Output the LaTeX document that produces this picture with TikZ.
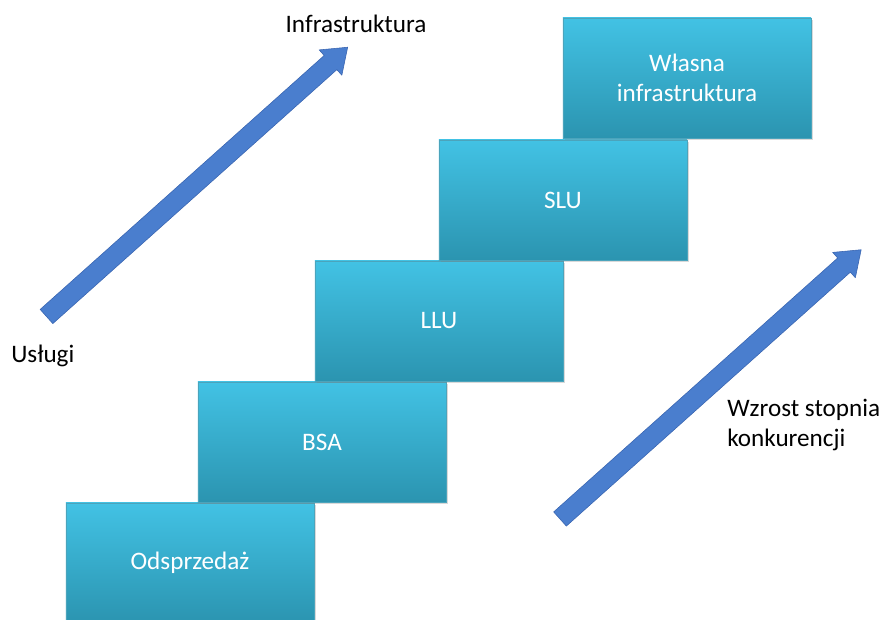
\documentclass[tikz,border=0pt]{standalone}
\usepackage{fontspec}
\setmainfont{Carlito}
\usetikzlibrary{shadows}
\definecolor{stepTop}{RGB}{66,194,228}
\definecolor{stepBot}{RGB}{43,148,176}
\definecolor{arrowFill}{RGB}{74,126,206}
\definecolor{arrowLine}{RGB}{56,100,176}
\tikzset{every node/.style={font=\fontsize{17.9}{21.3}\selectfont}}

\begin{document}
\begin{tikzpicture}[x=0.025cm, y=-0.025cm,
    stepbox/.style={rectangle, minimum width=6.2cm, minimum height=3cm,
      top color=stepTop, bottom color=stepBot, draw=stepBot!85!white, thin,
      text=white, align=center,
      drop shadow={shadow xshift=1.2pt, shadow yshift=-1.2pt, opacity=0.3}},
    sidetext/.style={inner sep=0pt, text=black, align=left},
    bigarrow/.style={fill=arrowFill, draw=arrowLine, thin, line join=round}]
  \useasboundingbox (0,0) rectangle (892,619);
  % schodki
  \node[stepbox] (odsprzedaz) at (190,563) {Odsprzedaż};
  \node[stepbox] (bsa) at (322,442) {BSA};
  \node[stepbox] (llu) at (439,321) {LLU};
  \node[stepbox] (slu) at (563,200) {SLU};
  \node[stepbox] (wlasna) at (687,78) {Własna\\infrastruktura};
  % podpisy
  \node[sidetext, anchor=base] (infra) at (356,32) {Infrastruktura};
  \node[sidetext, anchor=base west] (uslugi) at (11,362) {Usługi};
  \node[sidetext, anchor=base west] (wzrost) at (727,446) {Wzrost stopnia\\konkurencji};
  % strzalki
  \coordinate (uslugiTail) at (46.5,316.5);
  \coordinate (wzrostTail) at (560,519);
  \foreach \tail in {uslugiTail, wzrostTail}
  {
    \begin{scope}[shift={(\tail)}, rotate=41.8]
      \draw[bigarrow] (0,-9.5) -- (381,-9.5) -- (381,-17) -- (404,0)
        -- (381,17) -- (381,9.5) -- (0,9.5) -- cycle;
    \end{scope}
  }
\end{tikzpicture}
\end{document}
